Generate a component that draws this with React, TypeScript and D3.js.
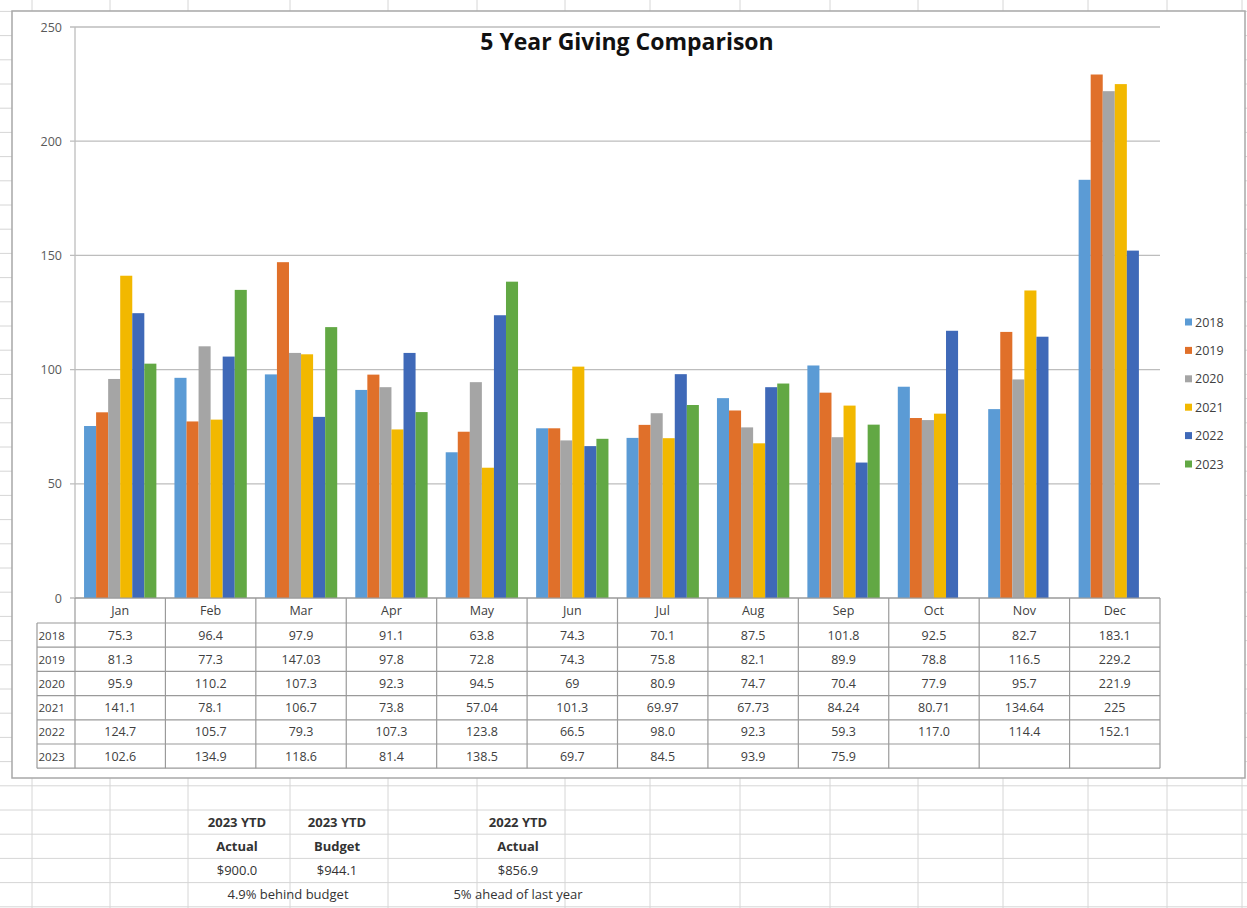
import React from "react";
import * as d3 from "d3";

const months = ["Jan", "Feb", "Mar", "Apr", "May", "Jun", "Jul", "Aug", "Sep", "Oct", "Nov", "Dec"];
const years = ["2018", "2019", "2020", "2021", "2022", "2023"];
const v2018 = ["75.3", "96.4", "97.9", "91.1", "63.8", "74.3", "70.1", "87.5", "101.8", "92.5", "82.7", "183.1"];
const v2019 = ["81.3", "77.3", "147.03", "97.8", "72.8", "74.3", "75.8", "82.1", "89.9", "78.8", "116.5", "229.2"];
const v2020 = ["95.9", "110.2", "107.3", "92.3", "94.5", "69", "80.9", "74.7", "70.4", "77.9", "95.7", "221.9"];
const v2021 = ["141.1", "78.1", "106.7", "73.8", "57.04", "101.3", "69.97", "67.73", "84.24", "80.71", "134.64", "225"];
const v2022 = ["124.7", "105.7", "79.3", "107.3", "123.8", "66.5", "98.0", "92.3", "59.3", "117.0", "114.4", "152.1"];
const v2023 = ["102.6", "134.9", "118.6", "81.4", "138.5", "69.7", "84.5", "93.9", "75.9", "", "", ""];
const seriesValues = [v2018, v2019, v2020, v2021, v2022, v2023];
const colors = ["#5B9BD5", "#E0702A", "#A5A5A5", "#F2B800", "#3F69B8", "#62A844"];
const yTicks = [0, 50, 100, 150, 200, 250];

const title = "5 Year Giving Comparison";
const summaryHeads1 = ["2023 YTD", "2023 YTD", "2022 YTD"];
const summaryHeads2 = ["Actual", "Budget", "Actual"];
const summaryValues = ["$900.0", "$944.1", "$856.9"];
const summaryNotes = ["4.9% behind budget", "5% ahead of last year"];

const W = 1247;
const H = 908;
const font = "'Open Sans', 'Liberation Sans', sans-serif";

export default function App() {
  const plotL = 75, plotR = 1160, plotT = 27, plotB = 598;
  const x = d3.scaleBand<string>().domain(months).range([plotL, plotR]).paddingInner(0).paddingOuter(0);
  const bw = x.bandwidth();
  const barW = bw / (years.length + 1.5);
  const inner = d3.scaleBand<string>().domain(years).range([barW * 0.75, barW * 0.75 + barW * years.length]);
  const y = d3.scaleLinear().domain([0, 250]).range([plotB, plotT]);

  const tableTop = plotB;
  const headerH = 25;
  const rowH = 24.2;
  const labelL = 37;

  const colLines = [32, 110, 188, 290, 388, 477, 565, 650, 740, 830, 918, 1003, 1088, 1167, 1242];
  const rowLines = d3.range(-40, 6).map((k) => 810 + k * 24.2).filter((v) => v >= 0 && v <= H);

  const summaryX = [237, 337, 518];
  const fs = 12.5;

  return (
    <svg width={W} height={H} style={{ position: "absolute", left: 0, top: 0, background: "#fff" }} fontFamily={font}>
      <rect x={0} y={0} width={W} height={H} fill="#fff" />
      {colLines.map((c, i) => (
        <line key={"c" + i} x1={c} x2={c} y1={0} y2={H} stroke="#d6d6d6" strokeWidth={1} />
      ))}
      {rowLines.map((r, i) => (
        <line key={"r" + i} x1={0} x2={W} y1={r} y2={r} stroke="#d6d6d6" strokeWidth={1} />
      ))}

      <rect x={12} y={11} width={1233} height={767} fill="#fff" stroke="#a8a8a8" strokeWidth={1.5} />

      <text x={627} y={50} textAnchor="middle" fontSize={23} fontWeight={700} fill="#111">{title}</text>

      {yTicks.map((t) => (
        <g key={"g" + t}>
          <line x1={plotL - 5} x2={plotR} y1={y(t)} y2={y(t)} stroke="#bdbdbd" strokeWidth={1.3} />
          <text x={62} y={y(t) + 4.5} textAnchor="end" fontSize={fs} fill="#595959">{t}</text>
        </g>
      ))}
      <line x1={plotL} x2={plotL} y1={plotT} y2={plotB} stroke="#bdbdbd" strokeWidth={1.3} />

      {seriesValues.map((vals, si) => (
        <g key={"s" + si} fill={colors[si]}>
          {vals.map((v, mi) =>
            v === "" ? null : (
              <rect
                key={mi}
                x={(x(months[mi]) as number) + (inner(years[si]) as number)}
                y={y(Number(v))}
                width={barW}
                height={y(0) - y(Number(v))}
              />
            )
          )}
        </g>
      ))}

      <g stroke="#9a9a9a" strokeWidth={1.2} fill="none">
        <line x1={plotL} x2={plotR} y1={tableTop} y2={tableTop} />
        <line x1={labelL} x2={plotR} y1={tableTop + headerH} y2={tableTop + headerH} />
        {years.map((yr, i) => (
          <line key={"tr" + i} x1={labelL} x2={plotR} y1={tableTop + headerH + (i + 1) * rowH} y2={tableTop + headerH + (i + 1) * rowH} />
        ))}
        <line x1={labelL} x2={labelL} y1={tableTop + headerH} y2={tableTop + headerH + years.length * rowH} />
        {months.map((m, i) => (
          <line key={"tc" + i} x1={x(m) as number} x2={x(m) as number} y1={tableTop} y2={tableTop + headerH + years.length * rowH} />
        ))}
        <line x1={plotR} x2={plotR} y1={tableTop} y2={tableTop + headerH + years.length * rowH} />
      </g>
      <g fontSize={fs} fill="#404040" textAnchor="middle">
        {months.map((m) => (
          <text key={"h" + m} x={(x(m) as number) + bw / 2} y={tableTop + headerH / 2 + 4.5}>{m}</text>
        ))}
        {years.map((yr, i) => (
          <g key={"row" + yr}>
            <text x={labelL + 1.5} y={tableTop + headerH + i * rowH + rowH / 2 + 4.5} textAnchor="start" fontSize={11.5}>{yr}</text>
            {seriesValues[i].map((v, mi) => (
              <text key={mi} x={(x(months[mi]) as number) + bw / 2} y={tableTop + headerH + i * rowH + rowH / 2 + 4.5}>{v}</text>
            ))}
          </g>
        ))}
      </g>

      {years.map((yr, i) => (
        <g key={"lg" + yr} transform={`translate(1185, ${322 + i * 28.4})`}>
          <rect x={0} y={-3.5} width={7} height={7} fill={colors[i]} />
          <text x={10} y={4.5} fontSize={fs} fill="#404040">{yr}</text>
        </g>
      ))}

      <g fontSize={13} fill="#333" textAnchor="middle">
        {summaryX.map((sx, i) => (
          <g key={"sm" + i}>
            <text x={sx} y={827} fontWeight={700}>{summaryHeads1[i]}</text>
            <text x={sx} y={851} fontWeight={700}>{summaryHeads2[i]}</text>
            <text x={sx} y={875}>{summaryValues[i]}</text>
          </g>
        ))}
        <text x={288} y={899}>{summaryNotes[0]}</text>
        <text x={518} y={899}>{summaryNotes[1]}</text>
      </g>
    </svg>
  );
}
